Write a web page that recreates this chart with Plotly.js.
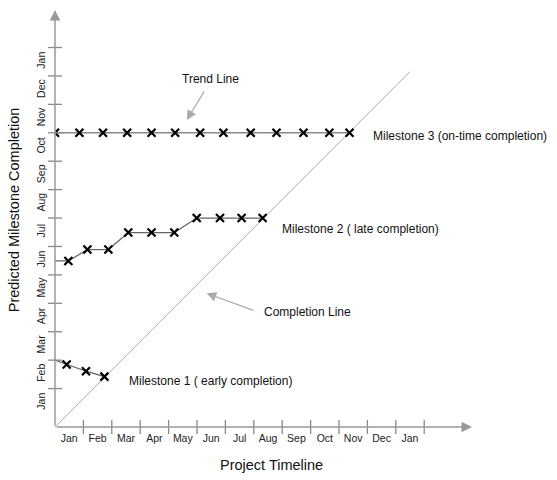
<!DOCTYPE html>
<html>
<head>
<meta charset="utf-8">
<script src="https://cdn.plot.ly/plotly-3.0.1.min.js"></script>
<style>html,body{margin:0;padding:0;background:#fff;}#chart{width:557px;height:480px;}</style>
</head>
<body>
<div id="chart"></div>
<script>
// Month labels on both axes
const xMonths = ['Jan','Feb','Mar','Apr','May','Jun','Jul','Aug','Sep','Oct','Nov','Dec','Jan'];
const yMonths = ['Jan','Feb','Mar','Apr','May','Jun','Jul','Aug','Sep','Oct','Nov','Dec','Jan'];

// Milestone 1 (early completion)
const m1X = [0, 0.41, 1.09, 1.74];
const m1Y = [2.0, 1.85, 1.61, 1.42];
// Milestone 2 (late completion)
const m2X = [0, 0.47, 1.14, 1.88, 2.58, 3.40, 4.20, 4.99, 5.81, 6.57, 7.31];
const m2Y = [5.49, 5.49, 5.89, 5.89, 6.49, 6.49, 6.49, 7.0, 7.0, 7.0, 7.0];
// Milestone 3 (on-time completion)
const m3X = [0, 0.86, 1.69, 2.54, 3.40, 4.23, 5.11, 5.93, 6.89, 7.80, 8.75, 9.66, 10.37];
const m3Y = [10, 10, 10, 10, 10, 10, 10, 10, 10, 10, 10, 10, 10];
// Completion line
const compX = [0, 12.5];
const compY = [-0.35, 12.15];

const FONT = 'Liberation Sans, Arial, sans-serif';
const xLabelPos = xMonths.map((m, i) => i + 0.5);
const yLabelPos = yMonths.map((m, i) => i + 0.5);
const xBounds = xMonths.map((m, i) => i + 1);
const yBounds = yMonths.map((m, i) => i + 1);

const xMin = 0, xMax = 14.683, yMin = -0.352, yMax = 14.32;

const lineStyle = {color: '#666', width: 1.3};
const markerStyle = {symbol: 'x-thin', size: 8, color: '#000', line: {color: '#000', width: 2.2}};

const traces = [
  {x: compX, y: compY, mode: 'lines', line: {color: '#aaa', width: 1}, hoverinfo: 'skip'},
  {x: m1X, y: m1Y, mode: 'lines', line: lineStyle},
  {x: m1X.slice(1), y: m1Y.slice(1), mode: 'markers', marker: markerStyle},
  {x: m2X, y: m2Y, mode: 'lines', line: lineStyle},
  {x: m2X.slice(1), y: m2Y.slice(1), mode: 'markers', marker: markerStyle},
  {x: m3X, y: m3Y, mode: 'lines+markers', line: {color: '#888', width: 1.5}, marker: markerStyle},
  // tick marks on the axes
  {x: xBounds, y: xBounds.map(() => yMin), mode: 'markers', cliponaxis: false,
   marker: {symbol: 'line-ns', size: 10, line: {color: '#888', width: 1.3}}},
  {x: yBounds.map(() => xMin), y: yBounds, mode: 'markers', cliponaxis: false,
   marker: {symbol: 'line-ew', size: 10, line: {color: '#888', width: 1.3}}}
];

const arrow = (x, y, ax, ay, extra) => Object.assign({
  x: x, y: y, ax: ax, ay: ay, xref: 'x', yref: 'y', axref: 'x', ayref: 'y',
  text: '', showarrow: true, arrowhead: 2, arrowsize: 1.6, arrowwidth: 1.2,
  arrowcolor: '#aaa', standoff: 0, startstandoff: 0
}, extra || {});

const label = (x, y, text, anchor) => ({
  x: x, y: y, xref: 'x', yref: 'y', text: text, showarrow: false,
  xanchor: anchor, yanchor: 'middle',
  font: {family: FONT, size: 12, color: '#111'}
});

const title = (x, y, text, angle) => ({
  x: x, y: y, xref: 'paper', yref: 'paper', text: text, showarrow: false,
  xanchor: 'center', yanchor: 'middle', textangle: angle,
  font: {family: FONT, size: 14.5, color: '#111'}
});

const layout = {
  width: 557, height: 480,
  margin: {l: 55, r: 85, t: 10, b: 53.3, pad: 0},
  paper_bgcolor: '#fff', plot_bgcolor: '#fff',
  showlegend: false,
  xaxis: {
    range: [xMin, xMax], showgrid: false, zeroline: false, showline: false,
    tickmode: 'array', tickvals: xLabelPos, ticktext: xMonths, ticks: '',
    ticklabelstandoff: 3,
    tickfont: {family: FONT, size: 10.5, color: '#222'}
  },
  yaxis: {
    range: [yMin, yMax], showgrid: false, zeroline: false, showline: false,
    tickmode: 'array', tickvals: yLabelPos, ticktext: yMonths, ticks: '', tickangle: -90,
    ticklabelstandoff: 7,
    tickfont: {family: FONT, size: 10.5, color: '#222'}
  },
  annotations: [
    // axes with arrowheads
    arrow(xMax, yMin, xMin, yMin, {arrowcolor: '#999', arrowwidth: 1.5, arrowsize: 1.4}),
    arrow(xMin, yMax, xMin, yMin, {arrowcolor: '#999', arrowwidth: 1.5, arrowsize: 1.4}),
    // pointer arrows
    arrow(4.64, 10.45, 5.28, 11.5),
    arrow(5.34, 4.35, 7.04, 3.73),
    label(5.49, 11.89, 'Trend Line', 'center'),
    label(11.13, 9.88, 'Milestone 3 (on-time completion)', 'left'),
    label(7.93, 6.61, 'Milestone 2 ( late completion)', 'left'),
    label(7.30, 3.68, 'Completion Line', 'left'),
    label(2.52, 1.27, 'Milestone 1 ( early completion)', 'left'),
    // axis titles
    title(0.520, -0.092, 'Project Timeline', 0),
    title(-0.098, 0.520, 'Predicted Milestone Completion', -90)
  ]
};

Plotly.newPlot('chart', traces, layout, {staticPlot: true, displayModeBar: false});
</script>
</body>
</html>
